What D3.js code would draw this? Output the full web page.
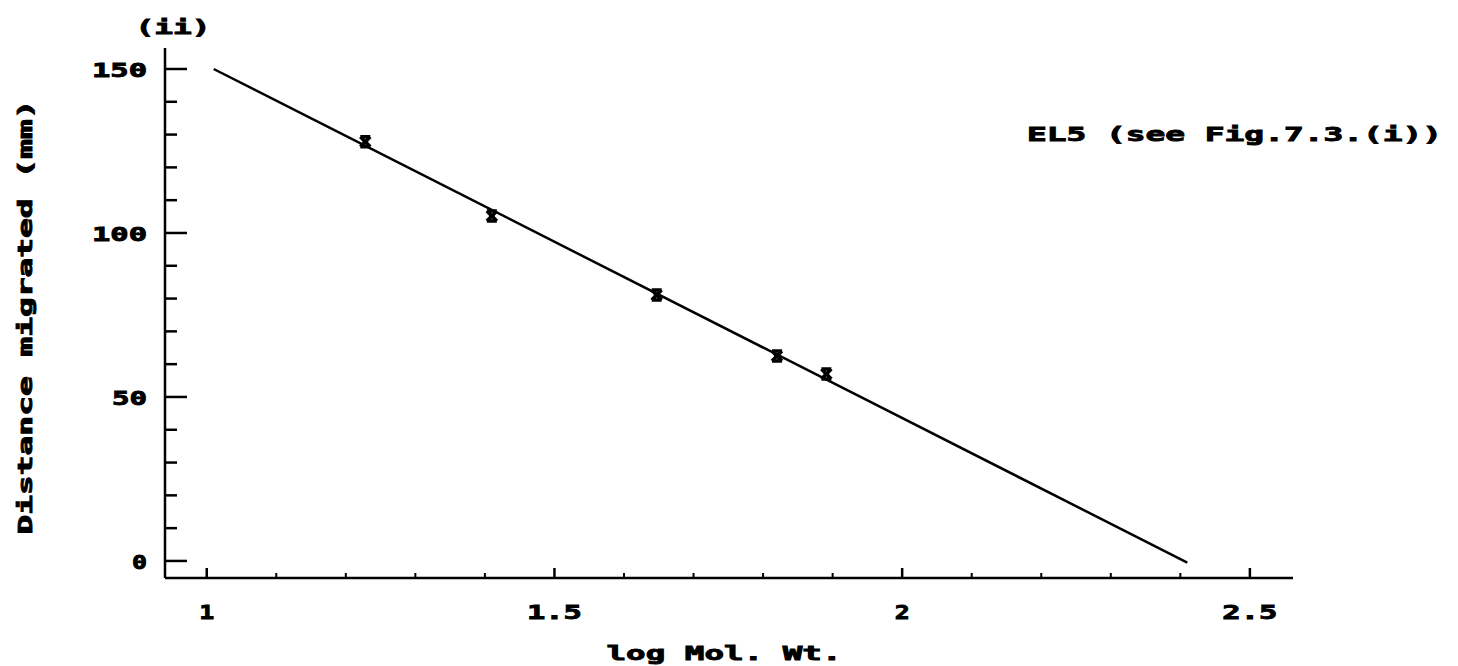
<!DOCTYPE html>
<html>
<head>
<meta charset="utf-8">
<script src="https://cdn.jsdelivr.net/npm/d3@7"></script>
<style>
  body { margin: 0; background: #fff; }
  text { font-family: "DejaVu Sans Mono", monospace; font-weight: bold; font-size: 20px; fill: #000; stroke: #000; stroke-width: 0.9px; }
</style>
</head>
<body>
<svg width="1458" height="666"></svg>
<script>
var svg = d3.select('svg');

// data
var logMW = [1.228, 1.41, 1.647, 1.82, 1.891];
var distance = [127.8, 105.2, 81.1, 62.5, 57.0];
var fitX = [1.01, 2.41];
var fitY = [150, -0.5];
var xTicks = [1, 1.5, 2, 2.5];
var xTickLabels = ['1', '1.5', '2', '2.5'];
var yTicks = [0, 50, 100, 150];
var yTickLabels = ['0', '50', '100', '150'];

var x = d3.scaleLinear().domain([0.94, 2.562]).range([165, 1293]);
var y = d3.scaleLinear().domain([-5.2, 156.4]).range([578, 48]);

// advance of one character in the plotter font
function len(s) { return s.length * 20 - 5; }

svg.append("rect")
    .attr("width", "100%")
    .attr("height", "100%")
    .attr("fill", "#fff");

// axes lines
svg.append('line')
    .attr('x1', x(0.94)).attr('x2', x(0.94))
    .attr('y1', y(156.4)).attr('y2', y(-5.2))
    .attr('stroke', '#000').attr('stroke-width', 2.5);
svg.append('line')
    .attr('x1', x(0.94)).attr('x2', x(2.562))
    .attr('y1', y(-5.2)).attr('y2', y(-5.2))
    .attr('stroke', '#000').attr('stroke-width', 2.5);

// y ticks
var yMinor = d3.range(0, 151, 10).filter(function (d) { return d % 50 != 0; });
svg.selectAll('.ymaj').data(yTicks).enter().append('line')
    .attr('x1', x(0.94)).attr('x2', x(0.94) + 22)
    .attr('y1', function (d) { return y(d); })
    .attr('y2', function (d) { return y(d); })
    .attr('stroke', '#000').attr('stroke-width', 2.5);
svg.selectAll('.ymin').data(yMinor).enter().append('line')
    .attr('x1', x(0.94)).attr('x2', x(0.94) + 12)
    .attr('y1', function (d) { return y(d); })
    .attr('y2', function (d) { return y(d); })
    .attr('stroke', '#000').attr('stroke-width', 2.5);
svg.selectAll('.ylab').data(yTicks).enter().append('text')
    .attr('x', 147)
    .attr('y', function (d) { return y(d) + 8; })
    .attr('text-anchor', 'end')
    .attr('textLength', function (d, i) { return len(yTickLabels[i]); })
    .attr('lengthAdjust', 'spacingAndGlyphs')
    .text(function (d, i) { return yTickLabels[i]; });

// x ticks
var xMinor = d3.range(11, 26).map(function (d) { return d / 10; }).filter(function (d) { return (d * 10) % 5 != 0; });
svg.selectAll('.xmaj').data(xTicks).enter().append('line')
    .attr('x1', function (d) { return x(d); })
    .attr('x2', function (d) { return x(d); })
    .attr('y1', y(-5.2)).attr('y2', y(-5.2) - 10)
    .attr('stroke', '#000').attr('stroke-width', 2.5);
svg.selectAll('.xmin').data(xMinor).enter().append('line')
    .attr('x1', function (d) { return x(d); })
    .attr('x2', function (d) { return x(d); })
    .attr('y1', y(-5.2)).attr('y2', y(-5.2) - 5)
    .attr('stroke', '#000').attr('stroke-width', 2);
svg.selectAll('.xlab').data(xTicks).enter().append('text')
    .attr('x', function (d) { return x(d); })
    .attr('y', 619)
    .attr('text-anchor', 'middle')
    .attr('textLength', function (d, i) { return len(xTickLabels[i]); })
    .attr('lengthAdjust', 'spacingAndGlyphs')
    .text(function (d, i) { return xTickLabels[i]; });

// fitted line
svg.append('path')
    .datum(d3.zip(fitX, fitY))
    .attr('d', d3.line().x(function (d) { return x(d[0]); }).y(function (d) { return y(d[1]); }))
    .attr('fill', 'none')
    .attr('stroke', '#000')
    .attr('stroke-width', 2.5);

// data markers (bow-tie stars)
svg.selectAll('.pt').data(d3.zip(logMW, distance)).enter().append('path')
    .attr('transform', function (d) { return 'translate(' + x(d[0]) + ',' + y(d[1]) + ')'; })
    .attr('d', 'M-5,-5L5,5M5,-5L-5,5M-5,-5H5M-5,5H5M-3,0H3')
    .attr('fill', 'none')
    .attr('stroke', '#000')
    .attr('stroke-width', 3.5);

// labels
svg.append('text')
    .attr('x', 173).attr('y', 34)
    .attr('text-anchor', 'middle')
    .attr('textLength', len('(ii)'))
    .attr('lengthAdjust', 'spacingAndGlyphs')
    .text('(ii)');

svg.append('text')
    .attr('x', 724).attr('y', 660)
    .attr('text-anchor', 'middle')
    .attr('textLength', len('log Mol. Wt.'))
    .attr('lengthAdjust', 'spacingAndGlyphs')
    .text('log Mol. Wt.');

svg.append('text')
    .attr('transform', 'translate(32,317) rotate(-90)')
    .attr('text-anchor', 'middle')
    .attr('textLength', len('Distance migrated (mm)'))
    .attr('lengthAdjust', 'spacingAndGlyphs')
    .text('Distance migrated (mm)');

svg.append('text')
    .attr('x', 1027).attr('y', 141)
    .attr('textLength', len('EL5 (see Fig.7.3.(i))'))
    .attr('lengthAdjust', 'spacingAndGlyphs')
    .text('EL5 (see Fig.7.3.(i))');
</script>
</body>
</html>
